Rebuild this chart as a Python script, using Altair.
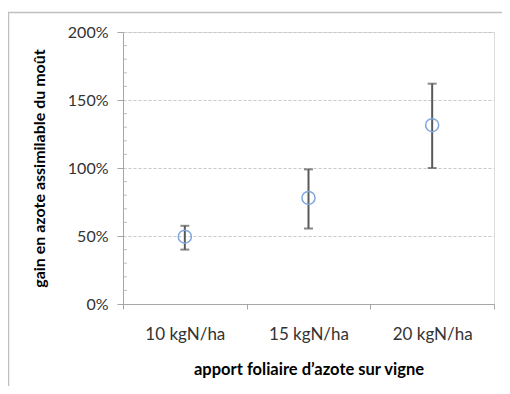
import altair as alt
import pandas as pd

categories = ["10 kgN/ha", "15 kgN/ha", "20 kgN/ha"]
gain_mean = [0.495, 0.78, 1.315]
gain_low = [0.40, 0.555, 1.00]
gain_high = [0.575, 0.99, 1.62]
minor_ticks = [0.1, 0.2, 0.3, 0.4, 0.6, 0.7, 0.8, 0.9, 1.1, 1.2, 1.3, 1.4, 1.6, 1.7, 1.8, 1.9]

df = pd.DataFrame({"cat": categories, "mean": gain_mean, "low": gain_low, "high": gain_high})
minor_df = pd.DataFrame({"v": minor_ticks})

FONT = "Lato"
TXT = "#333333"

x_enc = alt.X(
    "cat:N",
    sort=categories,
    scale=alt.Scale(paddingInner=0, paddingOuter=0),
    axis=alt.Axis(
        title="apport foliaire d\u2019azote sur vigne",
        tickBand="extent",
        tickSize=5,
        tickColor="#a6a6a6",
        domainColor="#a6a6a6",
        labelAngle=0,
        labelAlign="center",
        labelPadding=25,
        labelFontSize=17,
        labelColor=TXT,
        labelFont=FONT,
        titleFont=FONT,
        titleFontSize=16.5,
        titleFontWeight="bold",
        titleColor="#000000",
        titlePadding=19,
        grid=False,
    ),
)

y_scale = alt.Scale(domain=[0, 2], nice=False)
y_enc = alt.Y(
    "mean:Q",
    scale=y_scale,
    axis=alt.Axis(
        title="gain en azote assimilable du mo\u00fbt",
        values=[0, 0.5, 1, 1.5, 2],
        format=".0%",
        tickSize=6,
        tickColor="#a6a6a6",
        domainColor="#a6a6a6",
        labelPadding=9,
        labelFontSize=16,
        labelColor=TXT,
        labelFont=FONT,
        titleFont=FONT,
        titleFontSize=16,
        titleFontWeight="bold",
        titleColor="#000000",
        titlePadding=20,
        grid=True,
        gridColor="#c8c8c8",
        gridDash=[3, 2],
    ),
)

points = alt.Chart(df).mark_point(
    shape="circle", size=170, filled=False, stroke="#7fa7dc", strokeWidth=1.5, opacity=1
).encode(x=x_enc, y=y_enc)

bars = alt.Chart(df).mark_rule(color="#595959", strokeWidth=2).encode(
    x=alt.X("cat:N", sort=categories),
    y=alt.Y("low:Q", scale=y_scale),
    y2="high:Q",
)

cap_hi = alt.Chart(df).mark_tick(color="#595959", size=9, thickness=2).encode(
    x=alt.X("cat:N", sort=categories),
    y=alt.Y("high:Q", scale=y_scale),
)
cap_lo = alt.Chart(df).mark_tick(color="#595959", size=9, thickness=2).encode(
    x=alt.X("cat:N", sort=categories),
    y=alt.Y("low:Q", scale=y_scale),
)

minor = alt.Chart(minor_df).mark_tick(color="#a6a6a6", size=4, thickness=1, orient="horizontal").encode(
    y=alt.Y("v:Q", scale=y_scale),
    x=alt.value(2),
)

frame = alt.Chart(pd.DataFrame({"a": [0]})).mark_rect(
    fillOpacity=0, stroke="#bfbfbf", strokeWidth=1.5
).encode(
    x=alt.value(-114.5), y=alt.value(-19.5), x2=alt.value(900), y2=alt.value(900)
)

chart = alt.layer(frame, bars, cap_hi, cap_lo, points, minor).properties(
    width=371,
    height=272,
    autosize=alt.AutoSizeParams(type="none"),
    padding={"left": 115, "top": 24, "right": 8, "bottom": 82},
).configure_view(stroke=None).configure(background="#ffffff")

chart.save("out.html", embed_options={"renderer": "svg", "actions": False})
